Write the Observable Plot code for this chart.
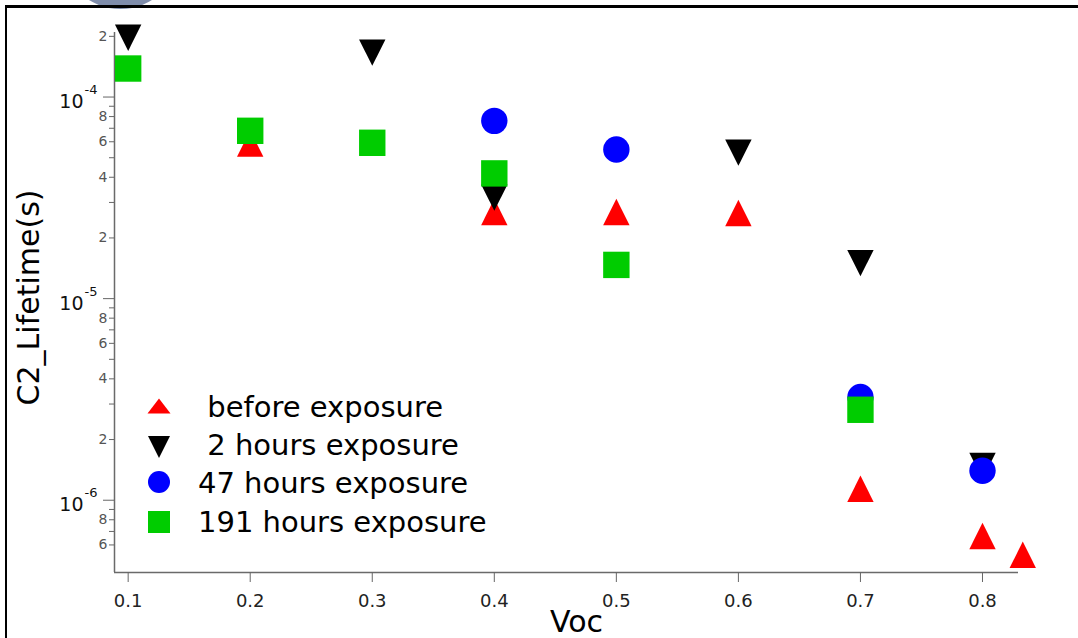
<!DOCTYPE html>
<html>
<head>
<meta charset="utf-8">
<script src="https://cdn.jsdelivr.net/npm/d3@7"></script>
<script src="https://cdn.jsdelivr.net/npm/@observablehq/plot@0.6"></script>
<style>
html, body { margin: 0; padding: 0; background: #fff; }
#wrap { position: relative; width: 1078px; height: 638px; overflow: hidden; background: #fff; }
#blob { position: absolute; left: 61px; top: -110px; width: 119px; height: 119px; border-radius: 50%; background: #7f8dab; }
#border { position: absolute; left: 5px; top: 5px; width: 1200px; height: 800px; border-top: 3px solid #000; border-left: 2px solid #000; }
#chart { position: absolute; left: 0; top: 0; }
#legend { position: absolute; left: 0; top: 0; pointer-events: none; }
</style>
</head>
<body>
<div id="wrap">
  <div id="blob"></div>
  <div id="border"></div>
  <div id="chart"></div>
  <svg id="legend" width="1078" height="638"></svg>
</div>
<script>
// ---- data ----
const seriesNames = ["before exposure", "2 hours exposure", "47 hours exposure", "191 hours exposure"];
const legendLabels = [" before exposure", " 2 hours exposure", "47 hours exposure", "191 hours exposure"];
const seriesColors = ["#ff0000", "#000000", "#0000ff", "#00cc00"];

const beforeVoc = [0.2, 0.4, 0.5, 0.6, 0.7, 0.8, 0.833];
const beforeLifetime = [5.88e-5, 2.69e-5, 2.69e-5, 2.66e-5, 1.14e-6, 6.64e-7, 5.36e-7];

const h2Voc = [0.1, 0.3, 0.4, 0.6, 0.7, 0.8];
const h2Lifetime = [1.97e-4, 1.66e-4, 3.17e-5, 5.30e-5, 1.50e-5, 1.48e-6];

const h47Voc = [0.4, 0.5, 0.7, 0.8];
const h47Lifetime = [7.62e-5, 5.49e-5, 3.25e-6, 1.40e-6];

const h191Voc = [0.1, 0.2, 0.3, 0.4, 0.5, 0.7];
const h191Lifetime = [1.385e-4, 6.80e-5, 5.93e-5, 4.18e-5, 1.47e-5, 2.81e-6];

const xTicks = [0.1, 0.2, 0.3, 0.4, 0.5, 0.6, 0.7, 0.8];
const yMajorTicks = [1e-4, 1e-5, 1e-6];
const yMinorLabeledTicks = [2e-4, 8e-5, 6e-5, 4e-5, 2e-5, 8e-6, 6e-6, 4e-6, 2e-6, 8e-7, 6e-7];
const yMinorTicks = [9e-5, 7e-5, 5e-5, 3e-5, 9e-6, 7e-6, 5e-6, 3e-6, 9e-7, 7e-7];

const xDomain = [0.0888, 0.8295];
const yDomain = [4.38e-7, 2.09e-4];

// ---- symbols ----
const triUp = { draw(ctx, size) { const r = Math.sqrt(size / Math.PI); ctx.moveTo(0, -r); ctx.lineTo(r, r); ctx.lineTo(-r, r); ctx.closePath(); } };
const triDown = { draw(ctx, size) { const r = Math.sqrt(size / Math.PI); ctx.moveTo(0, r); ctx.lineTo(r, -r); ctx.lineTo(-r, -r); ctx.closePath(); } };
const circ = { draw(ctx, size) { const r = Math.sqrt(size / Math.PI); ctx.moveTo(r, 0); ctx.arc(0, 0, r, 0, 2 * Math.PI); ctx.closePath(); } };
const sq = { draw(ctx, size) { const r = Math.sqrt(size / Math.PI); ctx.rect(-r, -r, 2 * r, 2 * r); } };
const symbols = [triUp, triDown, circ, sq];

const toRows = (xs, ys) => xs.map((v, i) => ({voc: v, life: ys[i]}));
const seriesData = [
  toRows(beforeVoc, beforeLifetime),
  toRows(h2Voc, h2Lifetime),
  toRows(h47Voc, h47Lifetime),
  toRows(h191Voc, h191Lifetime)
];

const leading = d => String(Math.round(d / Math.pow(10, Math.floor(Math.log10(d) + 1e-9))));

const chart = Plot.plot({
  width: 1078,
  height: 638,
  marginLeft: 114,
  marginRight: 60,
  marginTop: 32,
  marginBottom: 66,
  style: { fontFamily: "DejaVu Sans", background: "transparent", overflow: "visible" },
  x: { domain: xDomain },
  y: { type: "log", domain: yDomain },
  marks: [
    Plot.ruleX([xDomain[0]], { stroke: "#6a6a6a", strokeWidth: 1.5 }),
    Plot.ruleY([yDomain[0]], { stroke: "#6a6a6a", strokeWidth: 1.5 }),
    Plot.axisX(xTicks, { tickSize: 10, tickPadding: 12, fontSize: 18, tickFormat: d => d.toFixed(1), stroke: "#666", fill: "#222", label: null }),
    Plot.axisY(yMajorTicks, { tickSize: 11, tickFormat: () => "", stroke: "#666", label: null }),
    Plot.axisY(yMinorLabeledTicks, { tickSize: 5, tickFormat: () => "", stroke: "#666", label: null }),
    Plot.axisY(yMinorTicks, { tickSize: 5, tickFormat: () => "", stroke: "#666", label: null }),
    Plot.text(yMinorLabeledTicks, { y: d => d, frameAnchor: "left", text: leading, textAnchor: "end", dx: -7, fontSize: 14, fill: "#555" }),
    Plot.text(yMajorTicks, { y: d => d, frameAnchor: "left", text: () => "10", textAnchor: "end", dx: -31, dy: 5, fontSize: 19, fill: "#111" }),
    Plot.text(yMajorTicks, { y: d => d, frameAnchor: "left", text: d => String(Math.round(Math.log10(d))), textAnchor: "start", dx: -30, dy: -7, fontSize: 13, fill: "#111" }),
    Plot.text(["Voc"], { frameAnchor: "bottom", text: d => d, textAnchor: "middle", lineAnchor: "bottom", dx: 10, dy: 59, fontSize: 30, fill: "#000" }),
    Plot.text(["C2_Lifetime(s)"], { frameAnchor: "left", text: d => d, textAnchor: "middle", rotate: -90, dx: -85, dy: -5, fontSize: 30, fill: "#000" }),
    ...seriesData.map((rows, i) => Plot.dot(rows, { x: "voc", y: "life", symbol: symbols[i], r: 13.2, fill: seriesColors[i], stroke: "none" }))
  ]
});
document.getElementById("chart").appendChild(chart);

// ---- legend ----
const leg = d3.select("#legend");
const legendSymbols = [
  { draw(ctx) { ctx.moveTo(0, -7.5); ctx.lineTo(11.5, 7.5); ctx.lineTo(-11.5, 7.5); ctx.closePath(); } },
  { draw(ctx) { ctx.moveTo(0, 11); ctx.lineTo(11, -11); ctx.lineTo(-11, -11); ctx.closePath(); } },
  circ,
  sq
];
const legendMarkerY = [406, 447, 482, 522];
legendLabels.forEach((label, i) => {
  const base = 416.7 + i * 38.33;
  leg.append("path")
    .attr("transform", `translate(159,${legendMarkerY[i]})`)
    .attr("d", d3.symbol(legendSymbols[i], Math.PI * 11 * 11)())
    .attr("fill", seriesColors[i]);
  leg.append("text")
    .attr("x", 198).attr("y", base)
    .attr("font-family", "DejaVu Sans")
    .attr("font-size", 29)
    .attr("fill", "#000")
    .style("white-space", "pre")
    .attr("xml:space", "preserve")
    .text(label);
});
</script>
</body>
</html>
